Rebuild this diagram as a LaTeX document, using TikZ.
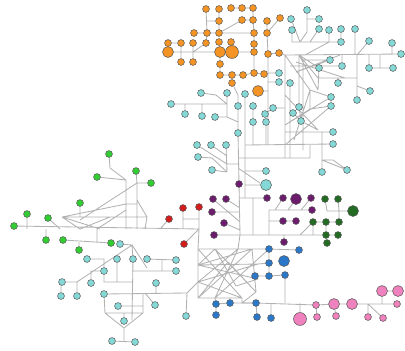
\documentclass[tikz,border=0pt]{standalone}
\usepackage{tikz}
\usetikzlibrary{backgrounds}
\definecolor{linkgray}{HTML}{B2B2B2}
\definecolor{rimgray}{HTML}{505050}
\definecolor{vorange}{HTML}{F39425}
\definecolor{vcyan}{HTML}{84D9D6}
\definecolor{vgreen}{HTML}{33CC33}
\definecolor{vred}{HTML}{D41C1C}
\definecolor{vpurple}{HTML}{6C1C6C}
\definecolor{vdkgreen}{HTML}{236B23}
\definecolor{vblue}{HTML}{2B78C9}
\definecolor{vpink}{HTML}{EF82BE}
\tikzset{
  vtx/.style={circle,draw=rimgray,line width=0.35pt,inner sep=0pt,minimum size=4.9pt},
  bigvtx/.style={vtx,minimum size=7.8pt},
  hugevtx/.style={vtx,minimum size=9.2pt},
  link/.style={draw=linkgray,line width=0.6pt},
}

\begin{document}
\begin{tikzpicture}[x=0.025cm,y=-0.025cm]
  \useasboundingbox (0,0) rectangle (405,350);
  % vertices, one colour per group
  \foreach \nm/\vx/\vy in {o1/206/9,o2/219/9,o3/231/8,o4/242/8,o5/253/8,o6/219/21,o7/242/20,o8/253/20,
      o9/267/21,o10/280/18,o11/194/33,o12/207/33,o13/219/33,o14/254/33,o15/267/33,o16/168/43,
      o17/181/43,o18/193/43,o19/206/43,o20/219/42,o21/231/42,o22/254/44,o23/254/52,o24/268/54,
      o25/279/53,o26/181/62,o27/193/62,o28/220/64,o29/220/75,o30/232/75,o31/243/75,o32/254/73,
      o33/264/74,o34/232/83}
    \node[vtx,fill=vorange] (\nm) at (\vx,\vy) {};
  \node[bigvtx,fill=vorange] (o35) at (168,52) {};
  \node[bigvtx,fill=vorange] (o36) at (220,52) {};
  \node[hugevtx,fill=vorange] (o37) at (232,52) {};
  \node[bigvtx,fill=vorange] (o38) at (258,91) {};
  \foreach \nm/\vx/\vy in {c1/307/10,c2/291/19,c3/319/19,c4/292/30,c5/319/29,c6/329/30,c7/341/29,
      c8/355/29,c9/341/42,c10/369/41,c11/392/43,c12/401/54,c13/330/60,c14/319/68,c15/342/66,
      c16/369/68,c17/393/68,c18/279/73,c19/279/82,c20/290/83,c21/338/83,c22/370/91,c23/331/97,
      c24/357/100,c25/331/106,c26/299/107,c27/293/113,c28/301/121,c29/333/132,c30/333/144,
      c31/322/172,c32/347/170,c33/201/93,c34/227/93,c35/245/94,c36/171/104,c37/185/114,
      c38/202/116,c39/215/117,c40/238/106,c41/253/106,c42/273/108,c43/265/114,c44/253/122,
      c45/266/122,c46/238/133,c47/197/145,c48/211/145,c49/226/145,c50/198/157,c51/212/170,
      c52/266/171,c54/120/244,c55/87/259,c56/117/259,c57/133/259,c58/147/259,c59/176/260,
      c60/104/271,c61/176/271,c62/62/282,c63/91/283,c64/156/283,c65/61/296,c66/77/296,
      c67/104/294,c68/118/306,c69/155/305,c70/124/321,c71/186/316,c72/112/341,c73/135/342}
    \node[vtx,fill=vcyan] (\nm) at (\vx,\vy) {};
  \node[bigvtx,fill=vcyan] (c53) at (266,185) {};
  \foreach \nm/\vx/\vy in {g1/109/154,g2/136/171,g3/97/177,g4/151/183,g5/80/203,g6/27/214,
      g7/48/218,g8/14/226,g9/46/240,g10/63/240,g11/111/243,g12/79/250}
    \node[vtx,fill=vgreen] (\nm) at (\vx,\vy) {};
  \foreach \nm/\vx/\vy in {r1/183/208,r2/199/207,r3/169/219,r4/184/244}
    \node[vtx,fill=vred] (\nm) at (\vx,\vy) {};
  \foreach \nm/\vx/\vy in {p1/239/184,p2/213/199,p3/226/199,p4/267/198,p5/283/198,p6/311/198,
      p7/312/210,p8/212/212,p9/224/223,p10/283/221,p11/296/221,p12/214/235,p13/284/242}
    \node[vtx,fill=vpurple] (\nm) at (\vx,\vy) {};
  \node[bigvtx,fill=vpurple] (p14) at (296,199) {};
  \foreach \nm/\vx/\vy in {d1/325/199,d2/338/199,d3/313/222,d4/326/222,d5/339/222,d6/326/235,
      d7/338/235,d8/327/243}
    \node[vtx,fill=vdkgreen] (\nm) at (\vx,\vy) {};
  \node[bigvtx,fill=vdkgreen] (d9) at (353,211) {};
  \foreach \nm/\vx/\vy in {b1/269/249,b2/299/250,b3/269/263,b4/255/276,b5/269/276,b6/285/275,
      b7/216/304,b8/216/315,b9/230/303,b10/256/303,b11/257/317,b12/271/318}
    \node[vtx,fill=vblue] (\nm) at (\vx,\vy) {};
  \node[bigvtx,fill=vblue] (b13) at (284,261) {};
  \foreach \nm/\vx/\vy in {k1/316/305,k2/317/317,k3/336/316,k4/368/317,k5/383/318,k6/397/304}
    \node[vtx,fill=vpink] (\nm) at (\vx,\vy) {};
  \node[hugevtx,fill=vpink] (k7) at (300,319) {};
  \foreach \nm/\vx/\vy in {k8/334/304,k9/352/304,k10/382/291,k11/398/291}
    \node[bigvtx,fill=vpink] (\nm) at (\vx,\vy) {};
  % junctions
  \foreach \nm/\vx/\vy in {ja/307/32,jb/300/42,je/310/42,jf/329/42,jg/305/55,jh/357/55,ji/380/55,
      jj/380/68,jc/285/55,jk/318/90,jl/318/78,jm/357/78,jn/357/86,v0/268/145,v1/285/158,
      v2/290/158,v3/299/55,m1/296/62,m2/345/78,m3/290/66,m5/296/72,m6/310/90,m7/310/109,
      m8/285/145,m9/285/125,h4/285/132,h5/245/145,h6/238/158,h7/310/158,jq/322/145,jq2/322/132,
      jr/322/160,js/333/160,t0/238/95,ja2/216/95,jb2/227/104,jd2/238/122,jx/227/156,jy/227/172,
      jz/227/164,ju/212/158,jt/238/164,jv/245/198,jw1/245/171,jw2/245/185,jd3/238/168,
      jd4/260/183,pa/240/235,pb/253/198,pc/253/235,pd/240/222,pe/240/208,pf/240/230,pg/269/210,
      ph/269/235,pi/275/210,pj/288/210,pk/301/210,pl/269/221,da/327/211,db/339/211,dc/300/235,
      dd/313/235,ba/285/303,ka/300/303,kb/368/304,kc/382/304,L0/199/229,ga/60/229,
      gb/110/168,gc/126/180,gd/126/229,ge/137/183,gf/137/229,gg/80/220,gh/62/217,gi/147/217,
      gj/80/229,gk/100/229,gl/110/217,gm/97/229,gn/126/210,go/137/200,gp/145/229,gq/97/242,
      gr/79/242,gs/126/204,gt/137/204,ra/183/229,rb/183/219,rc/199/219,rd/160/229,qa/132/245,
      qb/77/282,qc/132/320,qd/104/259,qe/104/282,qf/117/282,qg/132/282,qh/162/259,qi/162/271,
      qj/132/271,qk/187/293,ql/156/293,qm/145/293,qo/105/313,qp/124/328,qq/143/313,qr/143/293,
      qs/143/306,qt/124/313,qu/124/341,qv/91/271,qw/147/268,
      w1/198/249,w2/215/249,w3/238/249,w4/252/249,w5/198/265,w6/198/282,w7/198/298,w8/215/298,
      w9/242/298,w10/242/303,w11/258/264,w12/258/279,w13/256/292,w14/228/262,w15/236/286,
      n1/303/60,n2/303/150,n3/285/95,n4/318/130,n5/294/140,n6/340/55}
    \coordinate (\nm) at (\vx,\vy);

  \begin{scope}[on background layer]
    % orange group
    \draw[link] (o1) -- (o12) (o2) -- (o6) -- (o13) (o6) -- (o6-|o1)
      (o3) -- (o4) -- (o5) (o7) -- (o8) (o13) -- (o7)
      (o11) -- (o12) -- (o13) -- (o14)
      (o5) -- (o8) -- (o14) -- (o22) -- (o23) -- (o32)
      (o9) -- (o15) -- (o24) -- (o25) (o10) -- (o15)
      (o16) -- (o17) -- (o26) (o18) -- (o27) (o12) -- (o19)
      (o35) -- (o36) (o19) -- (o18|-o35)
      (o20) -- (o36) (o21) -- (o37) (o36) -- (o37) -- (o23)
      (o36) -- (o28) -- (o29) -- (o30) -- (o31) -- (o32) -- (o33)
      (o30) -- (o34) (o38) -- (o38-|o24) (o24) -- (v0) (o25) -- (jc)
      (c18) -- (c18-|v0) (c19) -- (c19-|v0);
    % upper right
    \draw[link] (c1) -- (ja) -- (jb) (c3) -- (c3-|c1) (c2) -- (jb)
      (c4) -- (c4|-c9) -- (c9) (c5) -- (je) (c6) -- (jf) -- (jg) (c7) -- (c9)
      (jc) -- (c12) (c8) -- (c8|-c12) (c10) -- (jh) (c11) -- (c11|-c12)
      (c16) -- (c16|-c12) (c16) -- (c17) (ji) -- (jj) (c15) -- (c15|-c12)
      (jh) -- (c24) (c14) -- (jk) (jl) -- (jm) (c21) -- (c21|-jm) (c22) -- (jn)
      (c13) -- (m5) (c14) -- (v3) (m1) -- (m2) (m3) -- (c15) (v3) -- (jl)
      (jc) -- (v1) (c20) -- (v2) (c26) -- (v3) (c28) -- (c26) (c27) -- (c28)
      (c23) -- (m6) -- (m7) -- (c25) (c23) -- (c25) (c25) -- (m8) (m7) -- (m9)
      (h4) -- (c29) (h5) -- (c30) (jq2) -- (jq) -- (jr) (h6) -- (h7) -- (h7|-h5)
      (c31) -- (jr) -- (js) -- (c32) (jr) -- (c32)
      (n1) -- (n2) (n3) -- (n4) (m6) -- (n5) (jc) -- (m6) (n6) -- (m5) (c28) -- (n4)
      (n1) -- (c13) (v3) -- (jk) (m9) -- (c23);
    % upper centre
    \draw[link] (c36) -- (c36-|c34) (c33) -- (ja2) -- (jb2) (c34) -- (c34|-c39) -- (c39)
      (c37) -- (c37|-c36) (c38) -- (c38|-c36) (c34|-c39) -- (jd2)
      (o34) -- (t0) -- (c40) (c40) -- (c46) -- (p1)
      (c35) -- (jv) (c41) -- (c44) -- (c44|-h5) (c43) -- (c42) -- (c42-|jc)
      (c45) -- (c45|-h5)
      (c49) -- (jy) (c48) -- (jx) (c47) -- (jz) (c50) -- (ju) -- (jy) (c51) -- (jy)
      (jz) -- (jt) (c52) -- (jw1) (c53) -- (jw2) (jd3) -- (jd4);
    % purple and dark green
    \draw[link] (p1) -- (pa) (p4) -- (p4-|p1) (pb) -- (pc) (p8) -- (p8-|p1)
      (p2) -- (pd) (p3) -- (pe) (p9) -- (pf) (p12) -- (d6) -- (d7)
      (pg) -- (ph) (pg) -- (p7) (p5) -- (pi) (p14) -- (pj) (p6) -- (pk)
      (pl) -- (p10) -- (p11) (p13) -- (p13|-p12)
      (d1) -- (da) (d2) -- (db) (da) -- (d9) (db) -- (d5) (d3) -- (d4) -- (d5)
      (d3) -- (dc) (d3) -- (dd) (d6) -- (d8) (d4) -- (d6);
    % tangle in the middle
    \draw[link] (w1) -- (b1) (w1) -- (w7) -- (w9) -- (w10) -- (b10) (pa) -- (w3) (L0) -- (w1)
      (w1) -- (w9) (w2) -- (w13) (w3) -- (w6) (w4) -- (w7) (b1) -- (w8) (w5) -- (w12)
      (w6) -- (w11) (w5) -- (w11) (w2) -- (w15) (w14) -- (w7) (w4) -- (w13) -- (w10)
      (w5) -- (w4) (w14) -- (w13) (w6) -- (w9) (w2) -- (w5) (w15) -- (w12) (w3) -- (w8);
    % blue and pink
    \draw[link] (b1) -- (b2) (b1) -- (b3) -- (b5) (b4) -- (b5) -- (b6) (b6) -- (ba)
      (b3) -- (w11) (b4) -- (w12) (b7) -- (b9) -- (b10) (b7) -- (b8) (b10) -- (b11)
      (b12) -- (b12|-b10) (b7) -- (w8) (b9) -- (b9|-w7)
      (b10) -- (k1) -- (k8) -- (k9) -- (k6) (k7) -- (ka) (k1) -- (k2) (k8) -- (k3)
      (k4) -- (kb) (k5) -- (kb) (k10) -- (kc) (k10) -- (k11);
    % green and red
    \draw[link] (g8) -- (L0) (g6) -- (g6|-L0) (g7) -- (ga) (g9) -- (g9|-L0)
      (g1) -- (gb) -- (gc) (g3) -- (gc) -- (gd) (g2) -- (ge) (g4) -- (ge) -- (gf)
      (ge) -- (gg) (gh) -- (gi) (gh) -- (gj) (gh) -- (gk) (gj) -- (gl) (gm) -- (gn)
      (gi) -- (go) (gi) -- (gp) (g5) -- (g5|-gh) (g10) -- (g11) (gm) -- (gq)
      (g12) -- (gr) (gs) -- (gt) (gs) -- (gh)
      (r1) -- (ra) (rb) -- (rc) (r2) -- (L0) (r3) -- (rd) (r4) -- (L0);
    % lower left
    \draw[link] (c54) -- (qa) -- (qb) (c62) -- (qb) (c65) -- (c65|-c62) (c66) -- (qb)
      (qa) -- (c57) -- (qc) (qa) -- (qw) (c55) -- (qd) -- (c60) -- (qe) -- (qg) (c56) -- (qf)
      (c58) -- (c59) (qh) -- (qi) (c61) -- (qi) (qj) -- (qi)
      (c67) -- (qk) (c64) -- (ql) (c69) -- (qm) (c71) -- (qk) (qk) -- (w6)
      (c67) -- (qo) -- (qp) -- (qq) -- (qr) (qo) -- (qq) (c68) -- (qs) (c70) -- (qt)
      (qp) -- (qu) (c72) -- (c73) (c63) -- (qv) -- (c60);
  \end{scope}
\end{tikzpicture}
\end{document}
